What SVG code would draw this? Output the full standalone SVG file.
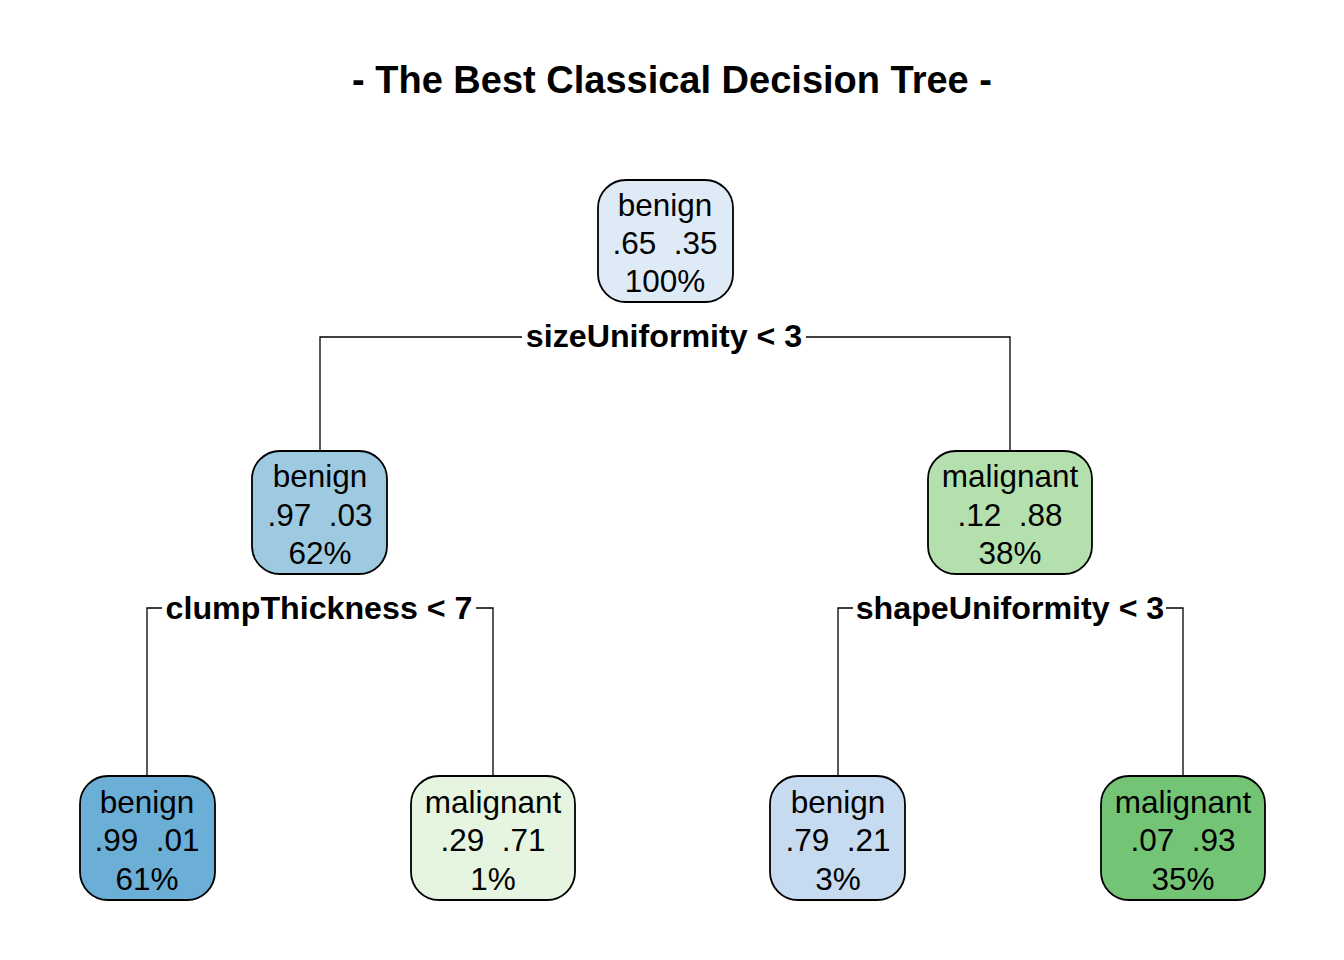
<svg xmlns="http://www.w3.org/2000/svg" width="1344" height="960" viewBox="0 0 1344 960">
  <style>
    .box { stroke: #000; stroke-width: 1.8; }
    .lbl { font-family: "Liberation Sans", Arial, sans-serif; font-size: 31.5px; fill: #000; text-anchor: middle; white-space: pre; }
    .split { font-family: "Liberation Sans", Arial, sans-serif; font-size: 32.2px; font-weight: bold; fill: #000; text-anchor: middle; }
    .title { font-family: "Liberation Sans", Arial, sans-serif; font-size: 38px; font-weight: bold; fill: #000; text-anchor: middle; }
    .edge { fill: none; stroke: #000; stroke-width: 1.3; }
  </style>
  <rect width="1344" height="960" fill="#fff"/>
  <text class="title" x="672" y="93">- The Best Classical Decision Tree -</text>

  <g id="connectors">
    <path class="edge" d="M320 450 V337 H522 M806 337 H1010 V450"/>
    <path class="edge" d="M147 776 V608 H162 M476 608 H493 V776"/>
    <path class="edge" d="M838 776 V608 H853 M1166 608 H1183 V776"/>
  </g>

  <g id="split-labels">
    <text class="split" x="664" y="347">sizeUniformity &lt; 3</text>
    <text class="split" x="319" y="619">clumpThickness &lt; 7</text>
    <text class="split" x="1010" y="619">shapeUniformity &lt; 3</text>
  </g>

  <g id="node-root">
    <rect class="box" x="598" y="180" width="135" height="122" rx="28" fill="#DEEBF7"/>
    <text class="lbl" x="665" y="216" xml:space="preserve">benign</text>
    <text class="lbl" x="665" y="254" xml:space="preserve">.65  .35</text>
    <text class="lbl" x="665" y="292" xml:space="preserve">100%</text>
  </g>

  <g id="node-left">
    <rect class="box" x="252" y="451" width="135" height="123" rx="28" fill="#9ECAE1"/>
    <text class="lbl" x="320" y="487" xml:space="preserve">benign</text>
    <text class="lbl" x="320" y="526" xml:space="preserve">.97  .03</text>
    <text class="lbl" x="320" y="564" xml:space="preserve">62%</text>
  </g>

  <g id="node-right">
    <rect class="box" x="928" y="451" width="164" height="123" rx="28" fill="#B4E0AD"/>
    <text class="lbl" x="1010" y="487" xml:space="preserve">malignant</text>
    <text class="lbl" x="1010" y="526" xml:space="preserve">.12  .88</text>
    <text class="lbl" x="1010" y="564" xml:space="preserve">38%</text>
  </g>

  <g id="leaf-61">
    <rect class="box" x="80" y="776" width="135" height="124" rx="28" fill="#6BAED6"/>
    <text class="lbl" x="147" y="813" xml:space="preserve">benign</text>
    <text class="lbl" x="147" y="851" xml:space="preserve">.99  .01</text>
    <text class="lbl" x="147" y="890" xml:space="preserve">61%</text>
  </g>

  <g id="leaf-1">
    <rect class="box" x="411" y="776" width="164" height="124" rx="28" fill="#E5F5E0"/>
    <text class="lbl" x="493" y="813" xml:space="preserve">malignant</text>
    <text class="lbl" x="493" y="851" xml:space="preserve">.29  .71</text>
    <text class="lbl" x="493" y="890" xml:space="preserve">1%</text>
  </g>

  <g id="leaf-3">
    <rect class="box" x="770" y="776" width="135" height="124" rx="28" fill="#C6DBEF"/>
    <text class="lbl" x="838" y="813" xml:space="preserve">benign</text>
    <text class="lbl" x="838" y="851" xml:space="preserve">.79  .21</text>
    <text class="lbl" x="838" y="890" xml:space="preserve">3%</text>
  </g>

  <g id="leaf-35">
    <rect class="box" x="1101" y="776" width="164" height="124" rx="28" fill="#74C476"/>
    <text class="lbl" x="1183" y="813" xml:space="preserve">malignant</text>
    <text class="lbl" x="1183" y="851" xml:space="preserve">.07  .93</text>
    <text class="lbl" x="1183" y="890" xml:space="preserve">35%</text>
  </g>
</svg>
